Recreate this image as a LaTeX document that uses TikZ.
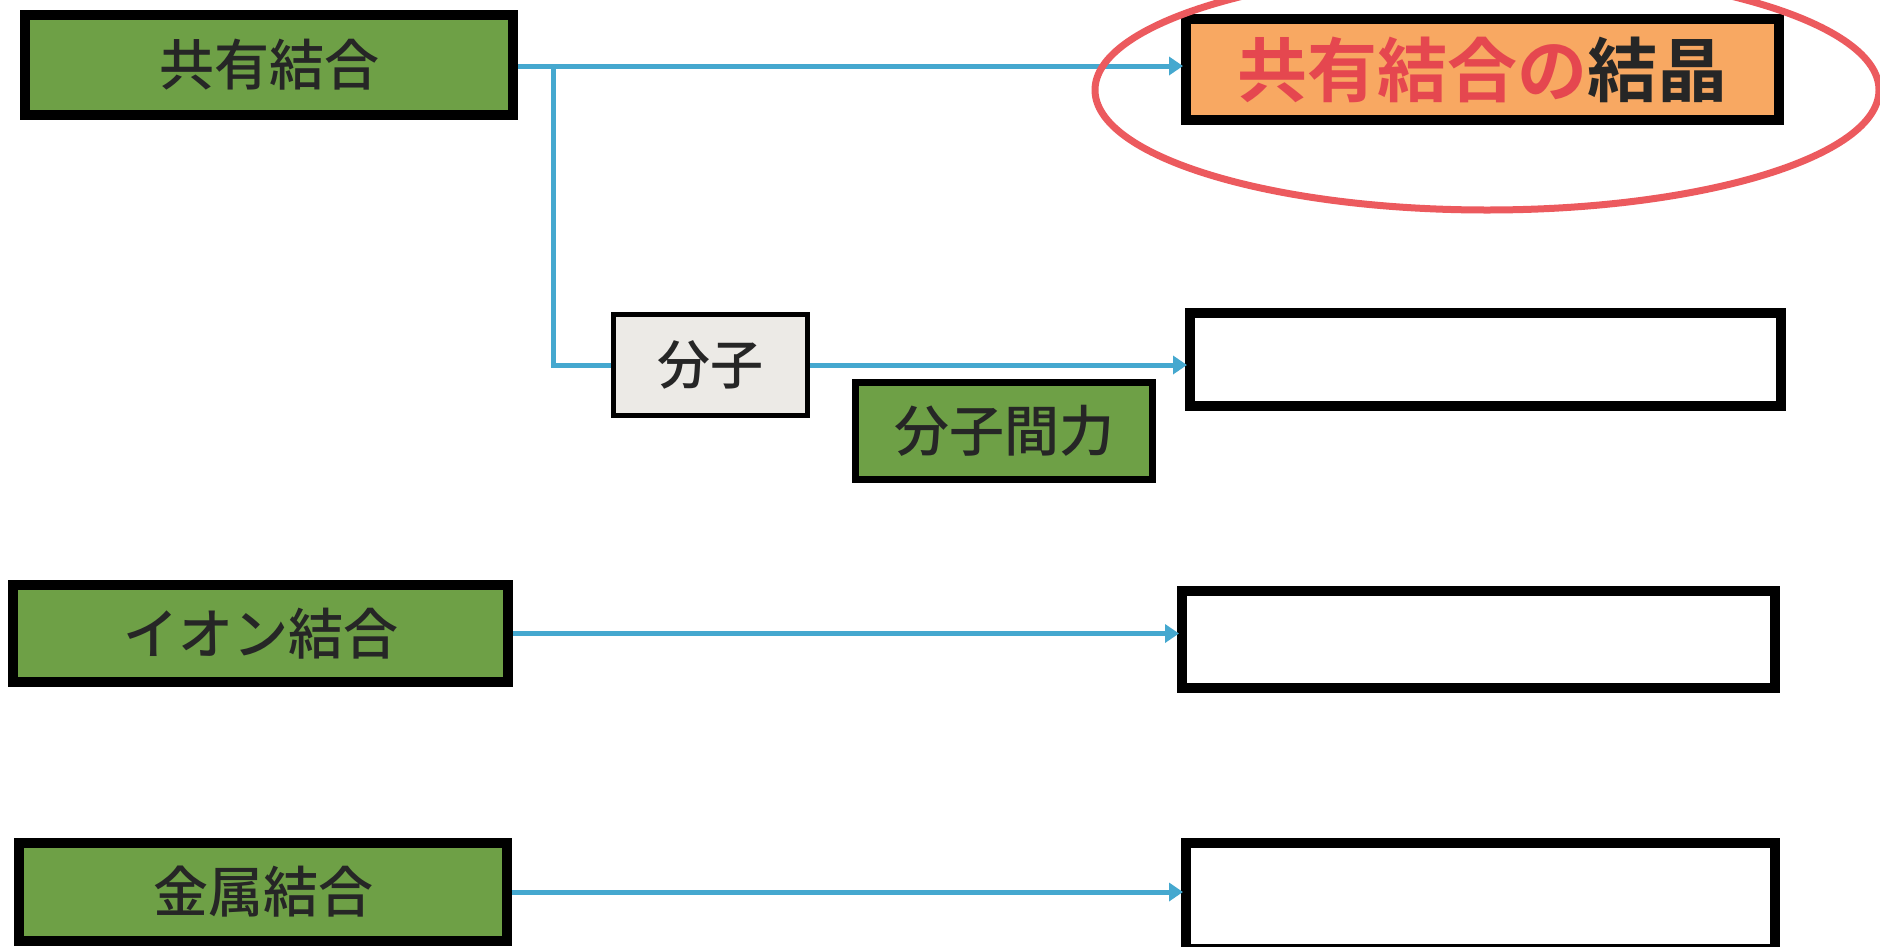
\documentclass[tikz,border=0pt]{standalone}
\usepackage{fontspec}
\newfontfamily\jp{Noto Sans CJK JP Medium}
\newfontfamily\jpb{Noto Sans CJK JP Bold}
\usetikzlibrary{arrows.meta}
\definecolor{boxgreen}{HTML}{6EA046}
\definecolor{boxorange}{HTML}{F8A862}
\definecolor{linkblue}{HTML}{45A8CF}
\definecolor{ringred}{HTML}{EC5A5E}
\definecolor{textred}{HTML}{E5474F}
\definecolor{boxgray}{HTML}{ECEAE6}
\definecolor{inkdark}{HTML}{262626}
\tikzset{
  bigbox/.style={draw=black, line width=10pt, inner sep=0pt, font=\jp\fontsize{55}{60}\selectfont, text=inkdark},
  greenbox/.style={bigbox, fill=boxgreen},
  emptybox/.style={bigbox, fill=white},
  smallbox/.style={draw=black, line width=5.5pt, inner sep=0pt, font=\jp\fontsize{53}{60}\selectfont, text=inkdark},
  link/.style={draw=linkblue, line width=5pt},
  arrowlink/.style={link, -{Triangle[length=14pt,width=18pt]}, shorten >=-2pt},
}
\begin{document}
\begin{tikzpicture}[x=1pt,y=-1pt]
\useasboundingbox (0,0) rectangle (1880,946);
\fill[white] (0,0) rectangle (1880,946);
\begin{scope}
\clip (0,0) rectangle (1880,946);
% nodes
\node[greenbox, minimum width=488pt, minimum height=100pt] (kyo) at (269,65) {共有結合};
\node[bigbox, fill=boxorange, minimum width=593pt, minimum height=101pt, font=\jpb\fontsize{70}{80}\selectfont] (kessho) at (1482.5,69.5) {\textcolor{textred}{共有結合の}\textcolor{inkdark}{結晶}};
\node[smallbox, fill=boxgray, minimum width=194pt, minimum height=101pt] (bunshi) at (710.5,365) {分子};
\node[emptybox, minimum width=591pt, minimum height=93pt] (box2) at (1485.5,359.5) {};
\node[greenbox, line width=7pt, minimum width=297pt, minimum height=97pt] (kanryoku) at (1004,431) {分子間力};
\node[greenbox, minimum width=495pt, minimum height=97pt] (ion) at (260.5,633.5) {イオン結合};
\node[emptybox, minimum width=593pt, minimum height=97pt] (box3) at (1478.5,639.5) {};
\node[greenbox, minimum width=488pt, minimum height=98pt] (kinzoku) at (263,892) {金属結合};
\node[emptybox, minimum width=589pt, minimum height=106pt] (box4) at (1480.5,896) {};
\coordinate (br) at (553,66);
% connectors
\draw[arrowlink] (kyo.east |- br) -- (kessho.west |- br);
\draw[link] (br) |- (bunshi.west);
\draw[arrowlink] (bunshi.east) -- (bunshi.east -| box2.west);
\draw[arrowlink] (ion.east) -- (ion.east -| box3.west);
\draw[arrowlink] (kinzoku.east) -- (kinzoku.east -| box4.west);
% red ring
\draw[ringred, line width=7pt] (1487,90) ellipse [x radius=392pt, y radius=120pt];
\end{scope}
\end{tikzpicture}
\end{document}
